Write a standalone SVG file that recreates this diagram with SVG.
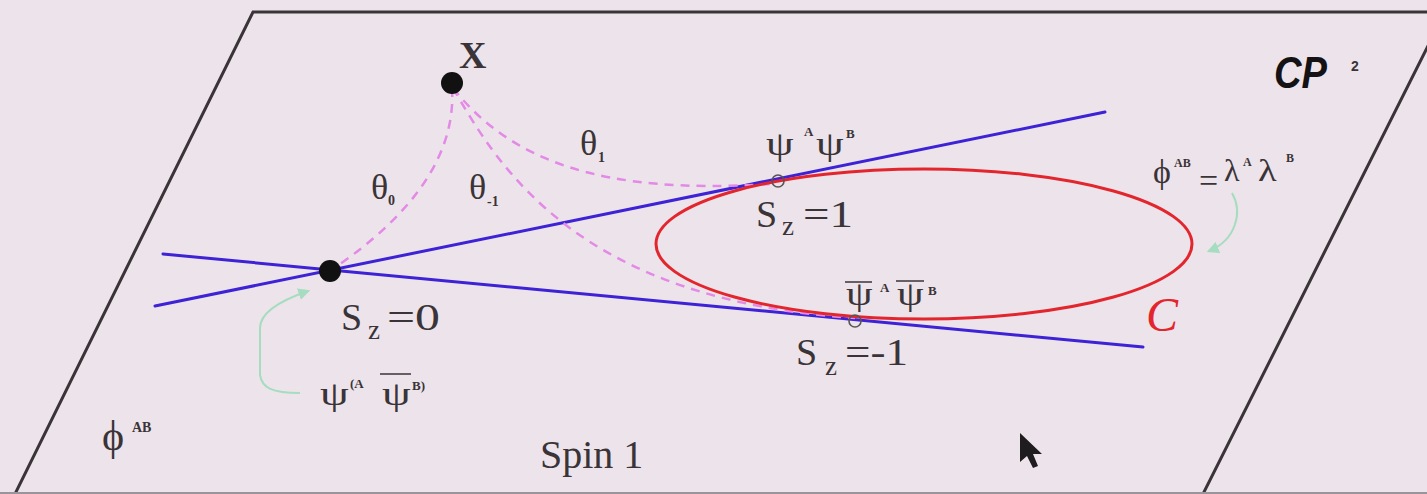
<svg xmlns="http://www.w3.org/2000/svg" width="1427" height="494" viewBox="0 0 1427 494">
<defs>
<style>
.t{font-family:"Liberation Serif","DejaVu Serif",serif;fill:#3a3337}
.sup{font-family:"Liberation Serif","DejaVu Serif",serif;fill:#3a3337;font-weight:bold}
.psi{font-family:"Liberation Serif","DejaVu Serif",serif;fill:#3a3337;font-size:34px}
.blue{stroke:#3d22d6;stroke-width:3;fill:none;stroke-linecap:round}
.dash{stroke:#e38ae6;stroke-width:2.5;fill:none;stroke-dasharray:9 7}
.green{stroke:#a6dcbf;stroke-width:2;fill:none}
.ring{stroke:#5a5358;stroke-width:1.6;fill:none}
.bar{stroke:#3a3337;stroke-width:1.5}
</style>
<marker id="ga" viewBox="0 0 10 10" refX="8" refY="5" markerWidth="6" markerHeight="6" orient="auto-start-reverse">
<path d="M0,0 L10,5 L0,10 z" fill="#a6dcbf"/>
</marker>
</defs>
<rect x="0" y="0" width="1427" height="494" fill="#ece4ea"/>
<g id="plane">
<polygon points="253,12 1445,12 1202,496 14,496" fill="#ece4ea" stroke="#3a3438" stroke-width="3"/>
<line x1="0" y1="493" x2="1427" y2="493" stroke="#9b949a" stroke-width="2"/>
</g>
<g id="connectors">
<line class="blue" x1="155" y1="306" x2="1105" y2="112"/>
<line class="blue" x1="163" y1="254" x2="1143" y2="347"/>
<path class="dash" d="M452,88 Q458,185 330,271"/>
<path class="dash" d="M453,88 C510,160 600,195 770,184"/>
<path class="dash" d="M453,88 C500,170 580,300 855,318"/>
<path class="green" d="M300,393 C272,393 262,388 260,375 L260,328 C260,312 282,300 308,291" marker-end="url(#ga)"/>
<path class="green" d="M1232,193 C1243,212 1236,240 1209,251" marker-end="url(#ga)"/>
</g>
<g id="curve-C">
<ellipse cx="924" cy="244" rx="268" ry="75" fill="none" stroke="#e3262e" stroke-width="3"/>
<text x="1146" y="331" font-family="Liberation Serif,serif" font-style="italic" font-size="48" fill="#e3262e">C</text>
</g>
<g id="node-X">
<circle cx="452" cy="83" r="11" fill="#111"/>
<text class="t" x="459" y="68" font-size="38" font-weight="bold">X</text>
</g>
<g id="node-Sz0">
<circle cx="330" cy="271" r="11" fill="#111"/>
<text class="t" x="341" y="330" font-size="38">S</text>
<text class="t" x="368" y="339" font-size="27">z</text>
<text class="t" x="387" y="330" font-size="38" textLength="53" lengthAdjust="spacingAndGlyphs">=0</text>
</g>
<g id="node-Sz1">
<circle class="ring" cx="778" cy="181" r="6"/>
<text class="t" x="756" y="227" font-size="38">S</text>
<text class="t" x="782" y="235" font-size="27">z</text>
<text class="t" x="803" y="227" font-size="38" textLength="50" lengthAdjust="spacingAndGlyphs">=1</text>
<text class="psi" transform="translate(766,155) scale(1.3,1)">ψ</text>
<text class="sup" x="804" y="136" font-size="13">A</text>
<text class="psi" transform="translate(816,155) scale(1.3,1)">ψ</text>
<text class="sup" x="846" y="138" font-size="13">B</text>
</g>
<g id="node-Szm1">
<circle class="ring" cx="855" cy="321" r="6"/>
<text class="t" x="796" y="365" font-size="38">S</text>
<text class="t" x="825" y="375" font-size="27">z</text>
<text class="t" x="845" y="365" font-size="38" textLength="63" lengthAdjust="spacingAndGlyphs">=-1</text>
<line class="bar" x1="845" y1="282" x2="872" y2="282"/>
<text class="psi" transform="translate(846,305) scale(1.25,1)">ψ</text>
<text class="sup" x="880" y="292" font-size="13">A</text>
<line class="bar" x1="896" y1="281" x2="924" y2="281"/>
<text class="psi" transform="translate(897,305) scale(1.25,1)">ψ</text>
<text class="sup" x="928" y="295" font-size="13">B</text>
</g>
<g id="label-psi-sym">
<text class="psi" transform="translate(320,405) scale(1.35,1)">ψ</text>
<text class="sup" x="350" y="388" font-size="13">(A</text>
<line class="bar" x1="380" y1="374" x2="411" y2="374"/>
<text class="psi" transform="translate(382,405) scale(1.35,1)">ψ</text>
<text class="sup" x="412" y="390" font-size="13">B)</text>
</g>
<g id="label-phi">
<text class="t" x="102" y="450" font-size="42">ϕ</text>
<text class="sup" x="132" y="432" font-size="14">AB</text>
</g>
<g id="label-phi-lambda">
<text class="t" x="1153" y="183" font-size="34">ϕ</text>
<text class="sup" x="1174" y="167" font-size="12">AB</text>
<text class="t" x="1199" y="192" font-size="34">=</text>
<text class="t" x="1224" y="181" font-size="32">λ</text>
<text class="sup" x="1243" y="166" font-size="12">A</text>
<text class="t" x="1258" y="181" font-size="32" transform="translate(1258,0) scale(1.2,1) translate(-1258,0)">λ</text>
<text class="sup" x="1286" y="162" font-size="12">B</text>
</g>
<g id="angles">
<text class="t" x="580" y="155" font-size="36">θ</text>
<text class="sup" x="598" y="162" font-size="14">1</text>
<text class="t" x="371" y="199" font-size="36">θ</text>
<text class="sup" x="388" y="205" font-size="14">0</text>
<text class="t" x="469" y="199" font-size="36">θ</text>
<text class="sup" x="487" y="206" font-size="14">-1</text>
</g>
<g id="title">
<text x="1274" y="88" font-family="Liberation Sans,Arial,sans-serif" font-weight="bold" font-style="italic" font-size="44" fill="#141214" textLength="53" lengthAdjust="spacingAndGlyphs">CP</text>
<text x="1351" y="71" font-family="Liberation Sans,Arial,sans-serif" font-weight="bold" font-size="14" fill="#3a3337">2</text>
<text class="t" x="540" y="468" font-size="40">Spin 1</text>
</g>
<g id="cursor">
<polygon points="1020,433 1020,462 1027,456 1033,468 1038,466 1033,454 1042,454" fill="#1e1c1e"/>
</g>
</svg>
